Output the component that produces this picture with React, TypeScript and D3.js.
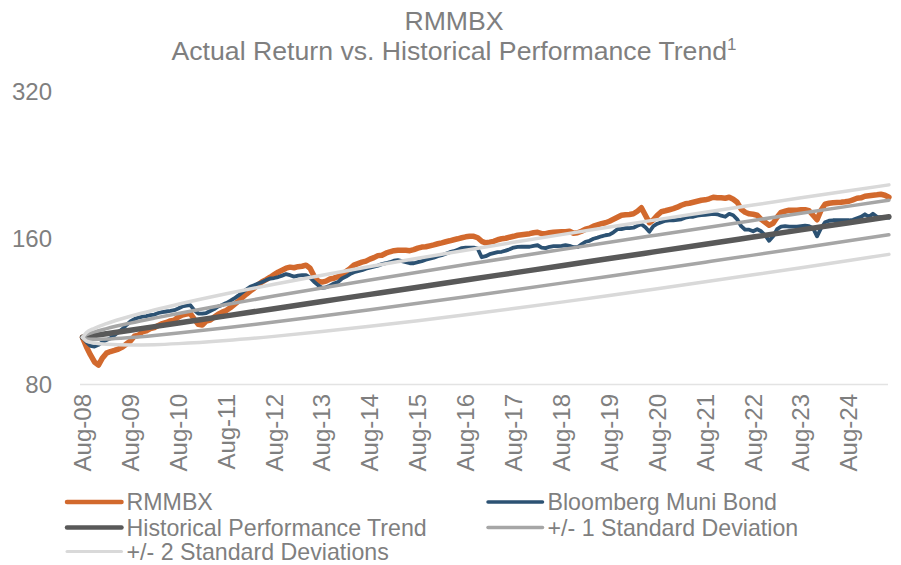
import React from "react";
import * as d3 from "d3";

// ---- Data (monthly, Aug-2008 = index 0) ----
const rmmbx: number[] = [
  100, 95.5, 92.0, 89.0, 87.7, 90.7, 92.8, 93.5, 94.0, 94.6,
  95.5, 96.9, 98.3, 100.5, 101.0, 102.7, 103.1, 104.2, 104.7, 105.8,
  106.7, 107.3, 108.1, 108.5, 110.1, 111.1, 111.6, 111.9, 109.0, 106.4,
  106.0, 108.0, 108.5, 110.1, 111.6, 112.7, 113.5, 115.0, 116.8, 118.6,
  120.6, 122.6, 124.5, 126.2, 128.3, 130.1, 131.4, 132.9, 134.5, 136.1,
  137.4, 138.7, 139.4, 139.0, 139.7, 140.0, 140.7, 138.7, 133.6, 130.5,
  129.9, 130.5, 131.8, 132.3, 133.3, 134.9, 136.5, 138.4, 140.7, 141.7, 142.7,
  143.4, 144.8, 145.8, 147.2, 147.5, 148.9, 149.9, 150.7, 151.0, 151.0,
  151.0, 150.7, 151.4, 152.5, 153.3, 153.5, 154.2, 154.9, 155.7, 156.4,
  157.2, 157.9, 158.7, 159.4, 160.2, 160.9, 161.3, 161.3, 160.2, 157.5,
  156.4, 156.8, 157.5, 158.7, 159.4, 159.8, 160.6, 161.3, 162.1, 162.5,
  162.9, 163.3, 164.0, 164.4, 163.3, 163.3, 164.0, 164.4, 164.7, 164.8,
  164.8, 165.2, 163.7, 164.0, 165.2, 166.8, 167.6, 169.2, 170.2, 171.2, 172.0,
  173.2, 174.8, 176.5, 178.2, 178.6, 178.8, 179.4, 181.6, 184.6, 178.2,
  172.0, 174.4, 178.2, 181.2, 182.0, 182.9, 183.8, 185.1, 186.8, 188.1,
  188.6, 189.5, 190.4, 191.3, 191.7, 192.6, 194.0, 193.5, 193.5, 193.1,
  194.0, 192.2, 189.5, 183.3, 180.7, 179.4, 179.0, 178.2, 174.8, 172.4,
  170.0, 171.6, 176.5, 180.7, 181.6, 182.5, 182.5, 182.5, 182.9, 182.9,
  182.0, 178.2, 174.4, 182.5, 187.7, 188.6, 189.1, 189.3, 189.5, 189.9, 190.4,
  191.7, 193.1, 193.5, 194.9, 195.4, 195.9, 196.3, 196.8, 195.9, 194.0,
];

const muni: number[] = [
  100, 97.8, 96.0, 95.7, 96.5, 97.8, 98.7, 99.6, 101.0, 102.5,
  104.0, 106.0, 107.8, 109.0, 109.8, 110.3, 110.6, 111.1, 111.4, 112.2,
  112.7, 113.0, 113.3, 113.7, 114.6, 115.7, 116.2, 116.5, 113.7, 111.9,
  111.9, 112.2, 113.3, 114.3, 115.7, 116.5, 117.6, 118.8, 120.2, 121.8,
  123.6, 125.4, 127.0, 128.0, 129.0, 129.9, 131.1, 132.1, 132.4, 133.0,
  133.9, 134.9, 134.2, 133.3, 133.9, 134.2, 134.2, 132.6, 130.1, 128.0,
  126.4, 126.7, 127.7, 129.0, 129.9, 132.1, 133.3, 134.9, 136.1, 136.8, 137.4,
  138.4, 139.0, 139.7, 140.4, 141.4, 142.0, 142.7, 143.7, 144.1, 143.4,
  142.7, 142.0, 142.0, 142.7, 143.4, 144.4, 145.1, 145.8, 146.8, 147.5,
  148.5, 149.6, 150.3, 151.4, 152.5, 152.9, 152.9, 152.9, 152.1, 146.1,
  146.8, 148.2, 148.9, 149.6, 149.9, 150.7, 151.7, 152.9, 153.4, 153.5,
  153.5, 153.5, 154.2, 154.6, 152.9, 152.5, 153.5, 153.9, 153.9, 154.2,
  154.6, 154.2, 153.2, 153.2, 155.3, 157.2, 157.9, 159.4, 160.3, 161.3, 162.1,
  162.5, 164.4, 166.8, 166.8, 167.6, 167.6, 168.0, 169.6, 170.8, 168.4,
  164.8, 169.2, 171.2, 172.4, 173.6, 174.0, 174.0, 174.4, 174.8, 176.1,
  176.9, 176.9, 177.8, 178.2, 178.6, 179.0, 179.4, 179.0, 177.8, 176.9,
  179.4, 178.2, 174.8, 169.2, 166.4, 166.4, 165.2, 166.8, 165.2, 162.1,
  157.9, 161.3, 166.8, 168.8, 169.2, 168.8, 168.8, 168.8, 169.2, 169.6,
  169.2, 167.6, 161.3, 167.6, 172.4, 173.6, 174.0, 174.0, 174.0, 174.0, 174.0,
  174.4, 175.7, 176.9, 179.0, 176.9, 179.4, 176.9, 176.5, 176.5, 176.1,
];

// trend & bands sampled at these month indices
const bandMonths: number[] = [0, 1, 3, 6, 12, 18, 24, 36, 48, 60, 72, 84, 96, 108, 120, 132, 144, 156, 168, 180, 192, 202];
const trend: number[] = [100, 100.28, 100.85, 101.71, 103.45, 105.21, 107.01, 110.70, 114.52, 118.47, 122.55, 126.77, 131.14, 135.67, 140.34, 145.18, 150.18, 155.36, 160.71, 166.25, 171.98, 176.91];
const plus1: number[] = [100, 101.29, 102.61, 104.20, 106.96, 109.51, 111.98, 116.79, 121.55, 126.33, 131.16, 136.07, 141.08, 146.21, 151.45, 156.84, 162.35, 168.03, 173.86, 179.86, 186.04, 191.33];
const minus1: number[] = [100, 99.27, 99.09, 99.22, 99.94, 100.91, 102.04, 104.61, 107.49, 110.61, 113.94, 117.47, 121.20, 125.13, 129.23, 133.52, 138.01, 142.69, 147.56, 152.64, 157.92, 162.49];
const plus2: number[] = [100, 102.31, 104.36, 106.68, 110.48, 113.82, 116.95, 122.87, 128.58, 134.19, 139.76, 145.36, 151.02, 156.75, 162.56, 168.49, 174.53, 180.70, 187.01, 193.47, 200.09, 205.74];
const minus2: number[] = [100, 98.25, 97.34, 96.74, 96.42, 96.60, 97.07, 98.53, 100.46, 102.75, 105.34, 108.18, 111.26, 114.59, 118.12, 121.87, 125.83, 130.02, 134.41, 139.03, 143.87, 148.08];

const yTicks: number[] = [80, 160, 320];
const xTickLabels: string[] = ["Aug-08", "Aug-09", "Aug-10", "Aug-11", "Aug-12", "Aug-13", "Aug-14", "Aug-15", "Aug-16", "Aug-17", "Aug-18", "Aug-19", "Aug-20", "Aug-21", "Aug-22", "Aug-23", "Aug-24"];

const FONT = "'Liberation Sans', Arial, sans-serif";
const TXT = "#7F7F7F";
const C_ORANGE = "#D2692D";
const C_BLUE = "#2C5273";
const C_TREND = "#595959";
const C_SD1 = "#A6A6A6";
const C_SD2 = "#D9D9D9";

export default function App() {
  const W = 901, H = 565;
  const x = d3.scaleLinear().domain([0, rmmbx.length - 1]).range([82.5, 888.9]);
  const y = d3.scaleLog().base(2).domain([80, 320]).range([384.5, 91.5]);

  const seriesLine = d3.line<number>().x((_, i) => x(i)).y((d) => y(d));
  const bandLine = d3
    .line<number>()
    .x((_, i) => x(bandMonths[i]))
    .y((d) => y(d))
    .curve(d3.curveMonotoneX);

  const lines = [
    { d: seriesLine(rmmbx), c: C_ORANGE, w: 5.5 },
    { d: seriesLine(muni), c: C_BLUE, w: 3.8 },
    { d: bandLine(trend), c: C_TREND, w: 5.5 },
    { d: bandLine(plus1), c: C_SD1, w: 3.5 },
    { d: bandLine(minus1), c: C_SD1, w: 3.5 },
    { d: bandLine(plus2), c: C_SD2, w: 3.5 },
    { d: bandLine(minus2), c: C_SD2, w: 3.5 },
  ];

  const legend = [
    { label: "RMMBX", c: C_ORANGE, w: 4.5, lx: 67, ly: 502 },
    { label: "Bloomberg Muni Bond", c: C_BLUE, w: 3.5, lx: 488, ly: 502 },
    { label: "Historical Performance Trend", c: C_TREND, w: 4.5, lx: 67, ly: 527.5 },
    { label: "+/- 1 Standard Deviation", c: C_SD1, w: 3.5, lx: 488, ly: 527.5 },
    { label: "+/- 2 Standard Deviations", c: C_SD2, w: 3, lx: 67, ly: 551.5 },
  ];

  return (
    <svg
      width={W}
      height={H}
      style={{ position: "absolute", left: 0, top: 0, background: "#fff" }}
      fontFamily={FONT}
    >
      <rect x={0} y={0} width={W} height={H} fill="#fff" />
      {/* Title */}
      <text x={454} y={29.5} textAnchor="middle" fontSize={26.67} fill={TXT}>
        RMMBX
      </text>
      <text x={454} y={60} textAnchor="middle" fontSize={26.67} fill={TXT}>
        Actual Return vs. Historical Performance Trend
        <tspan fontSize={17} dy={-10}>1</tspan>
      </text>

      {/* Y axis labels */}
      {yTicks.map((t) => (
        <text key={t} x={52} y={y(t) + 8.6} textAnchor="end" fontSize={24} fill={TXT}>
          {t}
        </text>
      ))}

      {/* X axis baseline */}
      <line x1={80} x2={888} y1={y(80)} y2={y(80)} stroke="#E3E3E3" strokeWidth={1.5} />

      {/* X labels */}
      {xTickLabels.map((lab, k) => (
        <text
          key={lab}
          transform={`translate(${x(k * 12)},394) rotate(-90)`}
          textAnchor="end"
          dy="0.35em"
          fontSize={24}
          fill={TXT}
        >
          {lab}
        </text>
      ))}

      {/* Series */}
      {lines.map((l, i) => (
        <path
          key={i}
          d={l.d || ""}
          fill="none"
          stroke={l.c}
          strokeWidth={l.w}
          strokeLinejoin="round"
          strokeLinecap="round"
        />
      ))}

      {/* Legend */}
      {legend.map((e) => (
        <g key={e.label}>
          <line x1={e.lx} x2={e.lx + 54.5} y1={e.ly} y2={e.ly} stroke={e.c} strokeWidth={e.w} strokeLinecap="round" />
          <text x={e.lx + 59.5} y={e.ly + 8.2} fontSize={23.2} fill={TXT}>
            {e.label}
          </text>
        </g>
      ))}
    </svg>
  );
}
